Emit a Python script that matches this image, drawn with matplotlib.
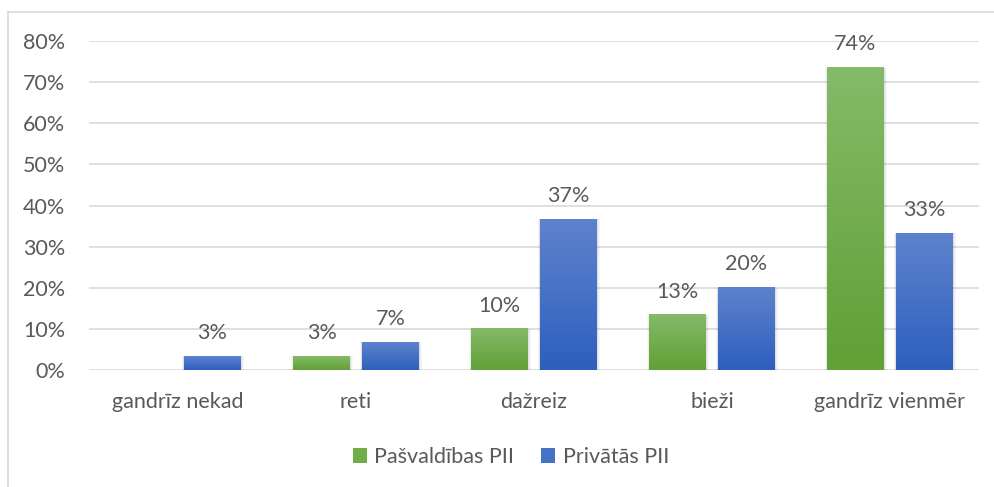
import numpy as np
import matplotlib
matplotlib.use("Agg")
import matplotlib.pyplot as plt
from matplotlib.lines import Line2D
from matplotlib.patches import Patch
from matplotlib.colors import LinearSegmentedColormap

categories = ["gandrīz nekad", "reti", "dažreiz", "bieži", "gandrīz vienmēr"]
series_names = ["Pašvaldības PII", "Privātās PII"]
pasvaldibas = [0.0, 3.3, 10.0, 13.4, 73.5]
privatas = [3.4, 6.7, 36.7, 20.0, 33.3]
yticks = [0, 10, 20, 30, 40, 50, 60, 70, 80]
ytick_labels = [f"{t}%" for t in yticks]

plt.rcParams['font.family'] = ['Lato', 'DejaVu Sans']
TEXT = "#595959"
GRID = "#d9d9d9"
FS = 15.5

green_top, green_bot = "#85ba69", "#60a035"
blue_top, blue_bot = "#5e83cd", "#2d5fbe"
green_mid = "#70ad47"
blue_mid = "#4472c4"

W, H = 994, 487
fig = plt.figure(figsize=(W / 100, H / 100), dpi=100)
ax = fig.add_axes([89 / W, 1 - 370 / H, (979 - 89) / W, (370 - 41) / H])

x = np.arange(len(categories))
bw = 0.32
gap = 0.067
off = bw / 2 + gap / 2

def gradient_bars(xpos, vals, ctop, cbot, zorder=3):
    bars = ax.bar(xpos, vals, bw, color="none", edgecolor="none", zorder=zorder)
    cmap = LinearSegmentedColormap.from_list("g", [cbot, ctop])
    grad = np.linspace(0, 1, 256).reshape(-1, 1)
    for b in bars:
        x0 = b.get_x()
        x1 = x0 + b.get_width()
        h = b.get_height()
        if h <= 0:
            continue
        # soft shadow
        for k, a in enumerate([0.05, 0.04, 0.03]):
            d = 0.006 * (k + 1)
            ax.add_patch(plt.Rectangle((x0 - d * 0.5, -0.15 * (k + 1)), (x1 - x0) + d * 1.5,
                                       h + 0.15 * (k + 1), color="black", alpha=a,
                                       lw=0, zorder=zorder - 0.5))
        ax.imshow(grad, cmap=cmap, origin="lower", extent=[x0, x1, 0, h],
                  aspect="auto", zorder=zorder, interpolation="bicubic")
    return bars

gradient_bars(x - off, pasvaldibas, green_top, green_bot)
gradient_bars(x + off, privatas, blue_top, blue_bot)

for xi, v in zip(x - off, pasvaldibas):
    if v > 0:
        ax.annotate(f"{round(v):d}%", (xi, v), xytext=(0, 12.5), textcoords="offset points",
                    ha="center", va="baseline", fontsize=FS, color=TEXT, zorder=5)
for xi, v in zip(x + off, privatas):
    if v > 0:
        ax.annotate(f"{round(v):d}%", (xi, v), xytext=(0, 12.5), textcoords="offset points",
                    ha="center", va="baseline", fontsize=FS, color=TEXT, zorder=5)

ax.set_xlim(-0.5, len(categories) - 0.5)
ax.set_ylim(0, 80)
ax.set_yticks(yticks)
ax.set_yticklabels(ytick_labels)
ax.set_xticks(x)
ax.set_xticklabels(categories)
ax.tick_params(axis="y", length=0, pad=17, labelsize=FS, labelcolor=TEXT)
ax.tick_params(axis="x", length=0, pad=16, labelsize=FS, labelcolor=TEXT)
for s in ax.spines.values():
    s.set_visible(False)
ax.set_axisbelow(True)
ax.grid(axis="y", color=GRID, lw=1.2, zorder=0)
ax.grid(axis="x", visible=False)

handles = [Patch(facecolor=green_mid, edgecolor="none"), Patch(facecolor=blue_mid, edgecolor="none")]
fig.legend(handles, series_names, loc="center", bbox_to_anchor=(511 / W, 1 - 457 / H), ncol=2,
           frameon=False, fontsize=FS, labelcolor=TEXT, handlelength=0.65, handleheight=0.65,
           handletextpad=0.35, columnspacing=1.25)

# chart border (top and left visible)
fig.add_artist(Line2D([7.5 / W, 7.5 / W], [0, 1 - 11.5 / H], color=GRID, lw=1.2))
fig.add_artist(Line2D([7.5 / W, 1], [1 - 11.5 / H, 1 - 11.5 / H], color=GRID, lw=1.2))

fig.savefig("out.png", dpi=100)
